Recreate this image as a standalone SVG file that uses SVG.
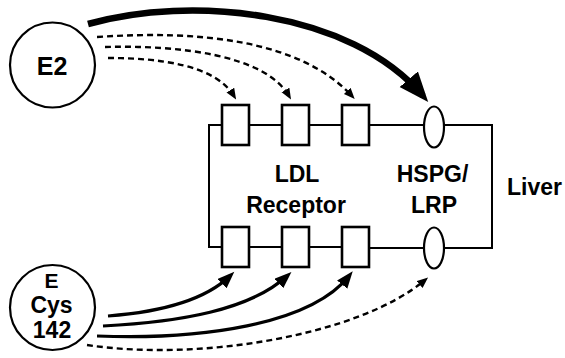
<svg xmlns="http://www.w3.org/2000/svg" width="565" height="358" viewBox="0 0 565 358">
<style>
  .lbl { font-family: "Liberation Sans", Arial, sans-serif; font-weight: bold; fill: #000; }
  .node { fill: #fff; stroke: #000; stroke-width: 2.2; }
  .box { fill: #fff; stroke: #000; stroke-width: 2.6; }
  .frame { fill: none; stroke: #000; stroke-width: 2; }
  .thick { fill: none; stroke: #000; stroke-width: 6.5; }
  .solid { fill: none; stroke: #000; stroke-width: 3.2; }
  .dash { fill: none; stroke: #000; stroke-width: 2.4; stroke-dasharray: 6 4; }
</style>
<defs>
  <marker id="bigHead" markerUnits="userSpaceOnUse" markerWidth="32" markerHeight="26" refX="22" refY="12" orient="auto">
    <path d="M0,0 L30,12 L0,24 z" fill="#000"/>
  </marker>
  <marker id="midHead" markerUnits="userSpaceOnUse" markerWidth="18" markerHeight="14" refX="11" refY="6.5" orient="auto">
    <path d="M0,0 L17,6.5 L0,13 z" fill="#000"/>
  </marker>
  <marker id="smallHead" markerUnits="userSpaceOnUse" markerWidth="12" markerHeight="10" refX="7" refY="4.5" orient="auto">
    <path d="M0,0 L11,4.5 L0,9 z" fill="#000"/>
  </marker>
</defs>

<g id="connectors">
  <path class="thick" d="M88,24 C190,-5 350,10 423,96" marker-end="url(#bigHead)"/>
  <path class="dash" d="M97,37 C200,30 300,40 352,96" marker-end="url(#smallHead)"/>
  <path class="dash" d="M105,47 C180,45 265,55 289,96" marker-end="url(#smallHead)"/>
  <path class="dash" d="M108,58 C160,58 215,65 234,96" marker-end="url(#smallHead)"/>
  <path class="solid" d="M108,316 C160,312 205,300 230,276" marker-end="url(#midHead)"/>
  <path class="solid" d="M103,326 C180,322 250,310 287,276" marker-end="url(#midHead)"/>
  <path class="solid" d="M97,336 C200,340 310,325 349,276" marker-end="url(#midHead)"/>
  <path class="dash" d="M87,345 C200,362 360,335 425,280" marker-end="url(#smallHead)"/>
</g>

<g id="liver">
  <path class="frame" d="M222,125 H209 V247 H222 M249,125 H282 M309,125 H342 M369,125 H424 M444,125 H492 V248 H444 M424,248 H369 M342,247 H309 M282,247 H249"/>
  <text class="lbl" x="507" y="194.5" font-size="23">Liver</text>
</g>

<g id="ldl-receptor">
  <rect class="box" x="222" y="105" width="27" height="40"/>
  <rect class="box" x="282" y="105" width="27" height="40"/>
  <rect class="box" x="342" y="105" width="27" height="40"/>
  <rect class="box" x="222" y="227" width="27" height="40"/>
  <rect class="box" x="282" y="227" width="27" height="40"/>
  <rect class="box" x="342" y="227" width="27" height="40"/>
  <text class="lbl" x="297" y="182" font-size="23" text-anchor="middle">LDL</text>
  <text class="lbl" x="296" y="213" font-size="23" text-anchor="middle">Receptor</text>
</g>

<g id="hspg-lrp">
  <ellipse class="node" cx="434" cy="127" rx="10" ry="20.5"/>
  <ellipse class="node" cx="434" cy="248" rx="10" ry="20.5"/>
  <text class="lbl" x="432.5" y="182" font-size="23" text-anchor="middle">HSPG/</text>
  <text class="lbl" x="434" y="213" font-size="23" text-anchor="middle">LRP</text>
</g>

<g id="e2">
  <circle class="node" cx="52.5" cy="65" r="42.5"/>
  <text class="lbl" x="52" y="75" font-size="25" text-anchor="middle">E2</text>
</g>

<g id="e-cys142">
  <circle class="node" cx="52.5" cy="307.5" r="42.5"/>
  <text class="lbl" x="51.5" y="288" font-size="21" text-anchor="middle">E</text>
  <text class="lbl" x="51.5" y="312.5" font-size="23" text-anchor="middle">Cys</text>
  <text class="lbl" x="52" y="338" font-size="23" text-anchor="middle">142</text>
</g>
</svg>
